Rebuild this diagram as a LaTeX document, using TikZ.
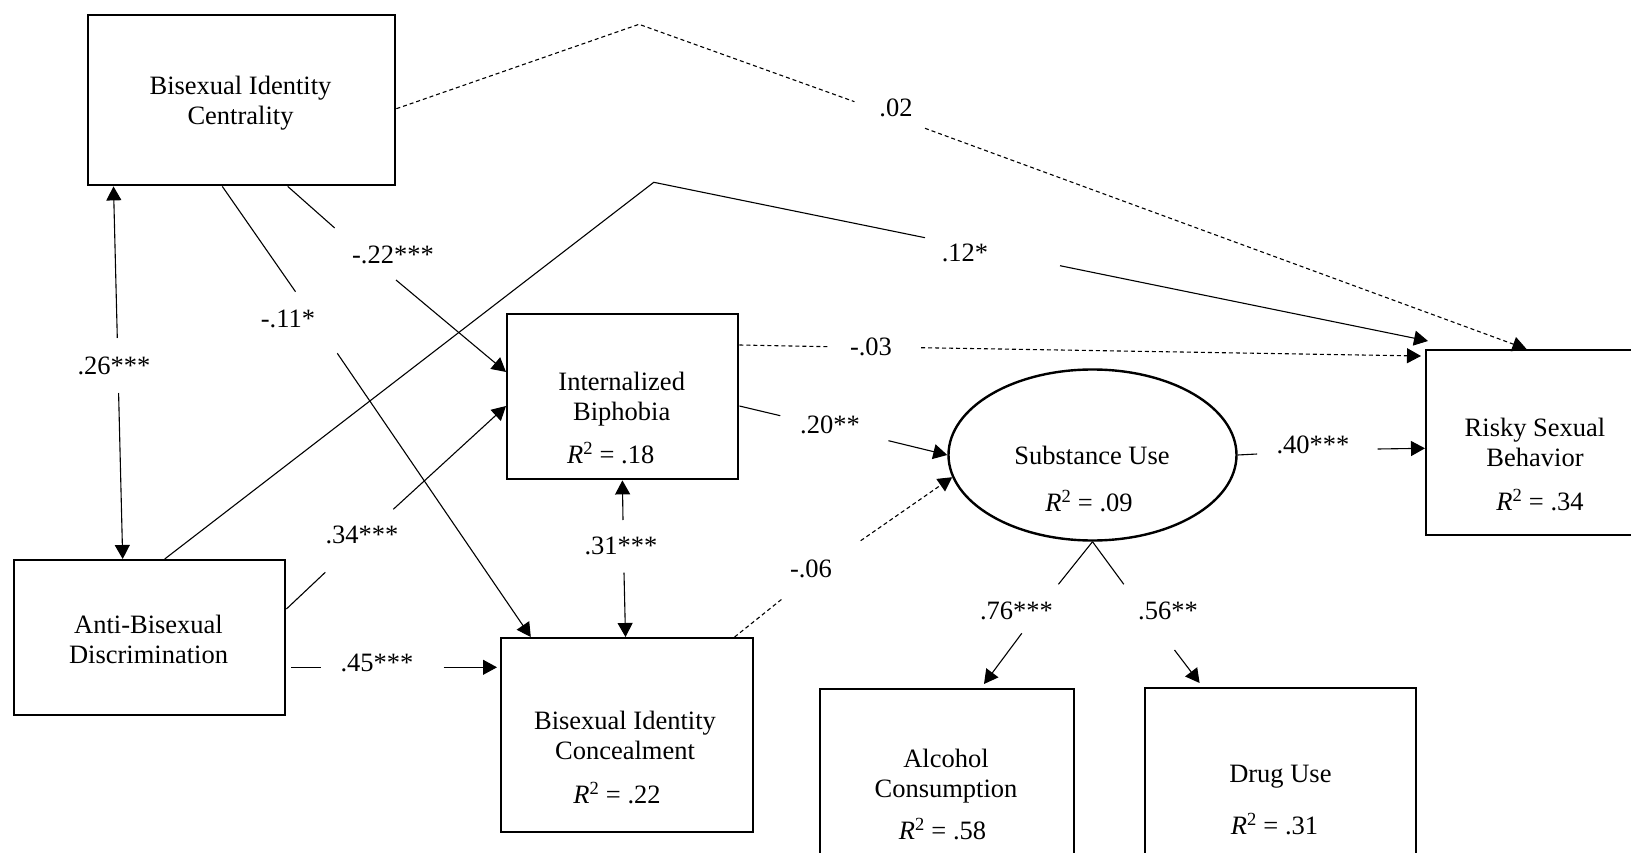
\documentclass[tikz,border=0pt]{standalone}
\usepackage{fontspec}
\setmainfont{Liberation Serif}
\usetikzlibrary{arrows.meta,shapes.geometric}
\begin{document}
\begin{tikzpicture}[x=1pt,y=-1pt,
  box/.style={draw, line width=2.4pt, rectangle, inner sep=0pt, anchor=north west},
  txt/.style={font=\fontsize{26.5}{30}\selectfont, align=center, inner sep=0pt},
  lbl/.style={font=\fontsize{26.5}{30}\selectfont, inner sep=0pt},
  con/.style={line width=1.1pt},
  arr/.style={con, -{Triangle[length=14pt,width=15pt]}},
  dsh/.style={dash pattern=on 4pt off 3pt}]
\useasboundingbox (0,0) rectangle (1631,853);
\clip (0,0) rectangle (1631,853);

% boxes
\node[box, minimum width=307pt, minimum height=170pt] (BIC) at (87,14) {};
\node[box, minimum width=231pt, minimum height=165pt] (IB) at (506,313) {};
\node[box, minimum width=271pt, minimum height=155pt] (ABD) at (13,559) {};
\node[box, minimum width=252pt, minimum height=194pt] (BICon) at (500,637) {};
\node[draw, ellipse, line width=2.4pt, minimum width=288pt, minimum height=171pt, inner sep=0pt] (SU) at (1092.5,455) {};
\node[box, minimum width=260pt, minimum height=185pt] (RSB) at (1425,349) {};
\node[box, minimum width=254pt, minimum height=200pt] (Alc) at (819,688) {};
\node[box, minimum width=271pt, minimum height=200pt] (Drug) at (1144,687) {};

% box texts
\node[txt] (tBIC) at (240.5,103) {Bisexual Identity\\Centrality};
\node[txt] (tIB) at (621.7,399.5) {Internalized\\Biphobia};
\node[txt] (rIB) at (610.7,453) {\textit{R}\textsuperscript{2} = .18};
\node[txt] (tABD) at (148.5,639.5) {Anti-Bisexual\\Discrimination};
\node[txt] (tBICon) at (625,735) {Bisexual Identity\\Concealment};
\node[txt] (rBICon) at (617,793) {\textit{R}\textsuperscript{2} = .22};
\node[txt] (tSU) at (1092,455) {Substance Use};
\node[txt] (rSU) at (1089,501) {\textit{R}\textsuperscript{2} = .09};
\node[txt] (tRSB) at (1535,442) {Risky Sexual\\Behavior};
\node[txt] (rRSB) at (1540,500.5) {\textit{R}\textsuperscript{2} = .34};
\node[txt] (tAlc) at (946,776) {Alcohol\\Consumption};
\node[txt] (rAlc) at (942.5,829) {\textit{R}\textsuperscript{2} = .58};
\node[txt] (tDrug) at (1280.4,777) {Drug Use};
\node[txt] (rDrug) at (1274.5,824) {\textit{R}\textsuperscript{2} = .31};

% gap and bend coordinates
\coordinate (a1) at (117.3,338); \coordinate (a2) at (118.6,393);
\coordinate (b1) at (334.7,228); \coordinate (b2) at (396,280);
\coordinate (c1) at (295.5,291.7); \coordinate (c2) at (337.3,353.3);
\coordinate (dA) at (653.8,182.3); \coordinate (d1) at (925,237.7); \coordinate (d2) at (1060,265.7);
\coordinate (eA) at (639,24.3); \coordinate (e1) at (854.5,101.7); \coordinate (e2) at (925,128.3);
\coordinate (f1) at (828.3,346.7); \coordinate (f2) at (921,347.7);
\coordinate (g1) at (780.3,415.7); \coordinate (g2) at (888.5,440.7);
\coordinate (h1) at (325.3,572.3); \coordinate (h2) at (393.3,509.3);
\coordinate (i1) at (320.6,667.3); \coordinate (i2) at (443.5,667.3);
\coordinate (j1) at (623,520); \coordinate (j2) at (624,572.7);
\coordinate (k1) at (782,599); \coordinate (k2) at (860.7,540.7);
\coordinate (l1) at (1257.2,454); \coordinate (l2) at (1377.5,449);
\coordinate (m1) at (1058.4,584.3); \coordinate (m2) at (1021.8,633.3);
\coordinate (n1) at (1123.8,584.3); \coordinate (n2) at (1174.5,650);

% connectors
\draw[arr] (a1) -- ([xshift=26.5pt]BIC.south west);
\draw[arr] (a2) -- ([xshift=109.7pt]ABD.north west);

\draw[con] ([xshift=200.7pt]BIC.south west) -- (b1);
\draw[arr] (b2) -- ([yshift=-59pt]IB.north west);

\draw[con] ([xshift=135.3pt]BIC.south west) -- (c1);
\draw[arr] (c2) -- ([xshift=30.8pt]BICon.north west);

\draw[con] ([xshift=151.7pt]ABD.north west) -- (dA) -- (d1);
\draw[arr] (d2) -- ([xshift=3pt,yshift=8pt]RSB.north west);

\draw[con,dsh] ([yshift=-94.7pt]BIC.north east) -- (eA) -- (e1);
\draw[arr,dsh] (e2) -- ([xshift=101.5pt]RSB.north west);

\draw[con,dsh] ([yshift=-32pt]IB.north east) -- (f1);
\draw[arr,dsh] (f2) -- ([xshift=-4pt,yshift=-7pt]RSB.north west);

\draw[con] ([yshift=-93pt]IB.north east) -- (g1);
\draw[arr] (g2) -- (SU.west);

\draw[con] ([yshift=-50pt]ABD.north east) -- (h1);
\draw[arr] (h2) -- ([yshift=-93pt]IB.north west);

\draw[con] ([xshift=4.7pt,yshift=-108.3pt]ABD.north east) -- (i1);
\draw[arr] (i2) -- ([xshift=-3pt,yshift=-30.3pt]BICon.north west);

\draw[arr] (j1) -- ([xshift=116.4pt]IB.south west);
\draw[arr] (j2) -- ([xshift=125.5pt]BICon.north west);

\draw[con,dsh] ([xshift=-19.8pt]BICon.north east) -- (k1);
\draw[arr,dsh] (k2) -- (SU.189);

\draw[con] (SU.east) -- (l1);
\draw[arr] (l2) -- ([yshift=-99.3pt]RSB.north west);

\draw[con] (SU.south) -- (m1);
\draw[arr] (m2) -- ([xshift=165pt,yshift=4pt]Alc.north west);

\draw[con] (SU.south) -- (n1);
\draw[arr] (n2) -- ([xshift=55.6pt,yshift=4pt]Drug.north west);

% path labels
\node[lbl] (L26) at (114,366) {.26***};
\node[lbl] (L22) at (393,255) {-.22***};
\node[lbl] (L11) at (288,319) {-.11*};
\node[lbl] (L12) at (965,253) {.12*};
\node[lbl] (L02) at (896,108) {.02};
\node[lbl] (L03) at (871,347) {-.03};
\node[lbl] (L20) at (830,425) {.20**};
\node[lbl] (L34) at (362,535) {.34***};
\node[lbl] (L45) at (377,663) {.45***};
\node[lbl] (L31) at (621,546) {.31***};
\node[lbl] (L06) at (811,569) {-.06};
\node[lbl] (L40) at (1313,445) {.40***};
\node[lbl] (L76) at (1016.5,611) {.76***};
\node[lbl] (L56) at (1168,611) {.56**};
\end{tikzpicture}
\end{document}
